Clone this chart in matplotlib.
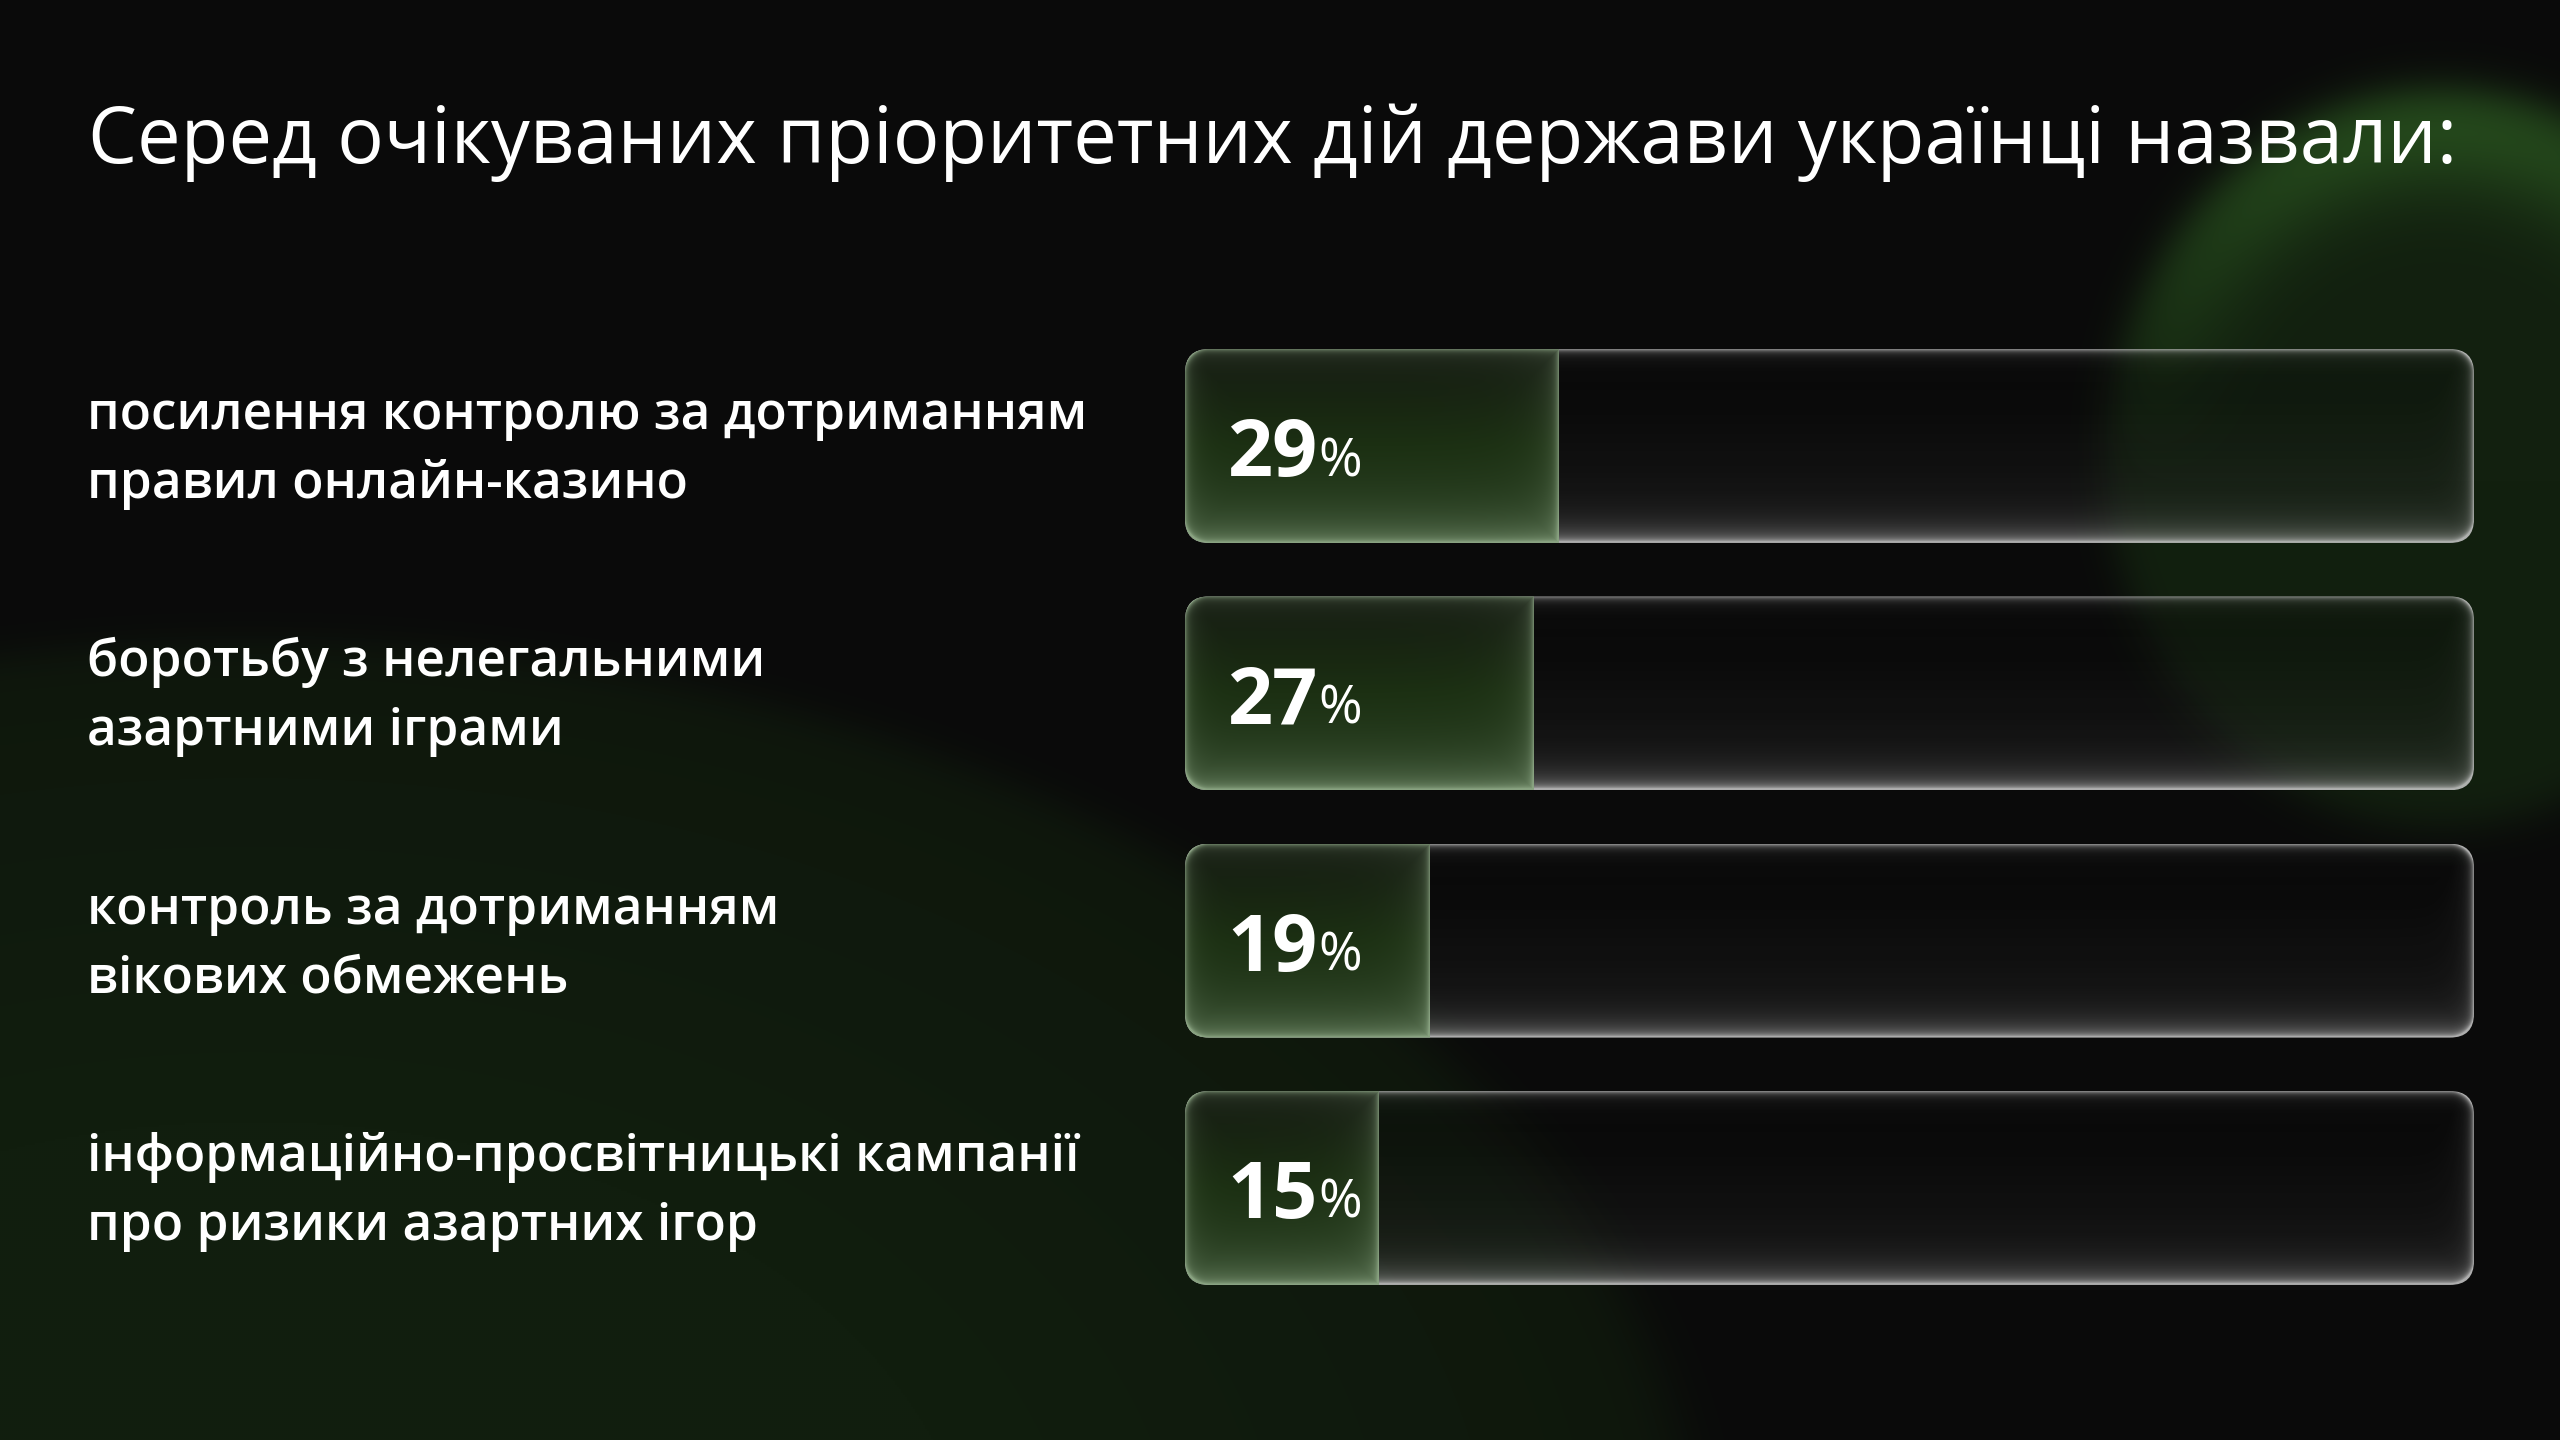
"""
Glass-style horizontal bars: expected priority actions of the state named by
Ukrainians (share of respondents, %).
"""
import numpy as np
import matplotlib
matplotlib.use("Agg")
from matplotlib import pyplot as plt
from matplotlib import transforms
from matplotlib.patches import FancyBboxPatch

TITLE = "Серед очікуваних пріоритетних дій держави українці назвали:"

CATEGORIES = [
    ["посилення контролю за дотриманням", "правил онлайн-казино"],
    ["боротьбу з нелегальними", "азартними іграми"],
    ["контроль за дотриманням", "вікових обмежень"],
    ["інформаційно-просвітницькі кампанії", "про ризики азартних ігор"],
]
VALUES = [29, 27, 19, 15]
VALUE_MAX = 100

FIG_W, FIG_H, DPI = 2560, 1440, 100
BG = np.array([10, 10, 10]) / 255

plt.rcParams["font.family"] = ["Open Sans", "Noto Sans", "DejaVu Sans"]


def _sigmoid(x):
    return 1.0 / (1.0 + np.exp(-x))


def _background(step=2):
    """Dark backdrop with two soft green blobs."""
    yy, xx = np.mgrid[0:FIG_H:step, 0:FIG_W:step].astype(float)
    img = np.ones(xx.shape + (3,)) * BG

    # big dim blob in the lower left
    d1 = np.hypot((xx - 250) / 1450, (yy - 1600) / 960)
    m1 = _sigmoid((1 - d1) / 0.012) * (0.65 + 0.35 * np.clip((1 - d1) * 2, 0, 1))
    img += m1[..., None] * np.array([7, 20, 4]) / 255

    # glowing blob in the upper right, lit from the top
    d2 = np.hypot((xx - 2440) / 335, (yy - 455) / 370)
    m2 = _sigmoid((1 - d2) / 0.035)
    img += m2[..., None] * np.array([8, 22, 5]) / 255
    lit = np.exp(-((d2 - 0.88) / 0.2) ** 2) * np.clip((480 - yy) / 380, 0, 1) ** 1.1
    img += (lit * m2)[..., None] * np.array([20, 44, 14]) / 255
    return np.clip(img, 0, 1)


def _rounded_depth(w, h, r):
    """Distance in px from every pixel to the edge of a rounded rectangle."""
    yy, xx = np.mgrid[0:h, 0:w] + 0.5
    qx = np.abs(xx - w / 2) - (w / 2 - r)
    qy = np.abs(yy - h / 2) - (h / 2 - r)
    outside = np.hypot(np.maximum(qx, 0), np.maximum(qy, 0))
    inside = np.minimum(np.maximum(qx, qy), 0)
    return r - outside - inside, xx, yy


def _track_rgba(depth, yy, h):
    """Whitish glass highlight laid over the empty part of a bar."""
    alpha = (0.55 * np.exp(-depth / 2.5) + 0.16 * np.exp(-depth / 10)
             + 0.30 * np.exp(-(h - yy) / 16) + 0.08 * yy / h)
    rgba = np.zeros(depth.shape + (4,))
    rgba[..., :3] = 0.85
    rgba[..., 3] = np.clip(alpha, 0, 0.8)
    return rgba


def _fill_rgb(depth, xx, yy, w_fill, h):
    """Green glass for the filled part of a bar."""
    t = yy / h
    stops = [0, 0.5, 1]
    cols = np.array([[20, 26, 17], [26, 46, 17], [34, 56, 27]]) / 255
    base = np.stack([np.interp(t, stops, cols[:, k]) for k in range(3)], axis=-1)
    right = w_fill - xx
    edge = np.minimum(depth, right)
    weight = (0.50 * np.exp(-edge / 2.5) + 0.20 * np.exp(-edge / 12)
              + 0.40 * np.exp(-(h - yy) / 30) + 0.10 * np.exp(-right / 30))
    weight = np.clip(weight, 0, 0.9)[..., None]
    glow = np.array([148, 174, 140]) / 255
    return base * (1 - weight) + glow * weight


def plot(path="out.png"):
    fig = plt.figure(figsize=(FIG_W / DPI, FIG_H / DPI), dpi=DPI)
    fig.patch.set_facecolor(BG)

    bg_ax = fig.add_axes([0, 0, 1, 1], zorder=0)
    bg_ax.imshow(_background(), extent=(0, FIG_W, FIG_H, 0), aspect="auto",
                 interpolation="bilinear")
    bg_ax.set_xlim(0, FIG_W)
    bg_ax.set_ylim(FIG_H, 0)
    bg_ax.axis("off")

    # bar area in pixels
    n = len(VALUES)
    left, right = 1185, 2474
    first_c, pitch = 446, 247.33
    top = first_c - pitch / 2
    ax = fig.add_axes([left / FIG_W, 1 - (top + n * pitch) / FIG_H,
                       (right - left) / FIG_W, n * pitch / FIG_H], zorder=1)
    ax.axis("off")

    bar_h = 0.784
    px_x = (right - left) / VALUE_MAX
    h_px = int(round(bar_h * pitch))
    w_px = int(round(VALUE_MAX * px_x))
    radius = 24
    depth, xx, yy = _rounded_depth(w_px, h_px, radius)
    track = _track_rgba(depth, yy, h_px)
    rx, ry = radius / px_x, radius / pitch

    lab_tr = transforms.blended_transform_factory(fig.transFigure, ax.transData)
    num_tr = transforms.offset_copy(ax.transData, fig=fig, x=42, y=-30, units="dots")
    numbers = []

    for i, (lines, value) in enumerate(zip(CATEGORIES, VALUES)):
        y0, y1 = i - bar_h / 2, i + bar_h / 2
        box = FancyBboxPatch((0, y0), VALUE_MAX, bar_h,
                             boxstyle=f"round,pad=0,rounding_size={rx}",
                             mutation_aspect=ry / rx, facecolor=(0, 0, 0, 0.3),
                             edgecolor="none", zorder=2)
        ax.add_patch(box)
        im = ax.imshow(track, extent=(0, VALUE_MAX, y1, y0), aspect="auto",
                       interpolation="bilinear", zorder=3)
        im.set_clip_path(box)

        wf = int(round(value * px_x))
        fill = _fill_rgb(depth[:, :wf], xx[:, :wf], yy[:, :wf], wf, h_px)
        im = ax.imshow(fill, extent=(0, value, y1, y0), aspect="auto",
                       interpolation="bilinear", zorder=4)
        im.set_clip_path(box)

        numbers.append(ax.text(0, i, str(value), transform=num_tr, fontsize=57,
                               fontweight="bold", color="white", va="baseline",
                               ha="left", zorder=5))

        for k, line in enumerate(lines):
            tr = lab_tr + transforms.ScaledTranslation(0, (17 - 69 * k) / DPI,
                                                       fig.dpi_scale_trans)
            ax.text(87 / FIG_W, i, line, transform=tr, fontsize=37,
                    fontweight="semibold", color="white", va="baseline", ha="left")

    ax.set_xlim(0, VALUE_MAX)
    ax.set_ylim(n - 0.5, -0.5)

    fig.text(88 / FIG_W, 1 - 163 / FIG_H, TITLE, fontsize=56, color="white",
             va="baseline", ha="left")

    # percent signs go right after the numbers
    fig.canvas.draw()
    renderer = fig.canvas.get_renderer()
    for num in numbers:
        bb = num.get_window_extent(renderer)
        base_y = num.get_transform().transform(num.get_position())[1]
        fig.text((bb.x1 + 1) / FIG_W, base_y / FIG_H, "%", fontsize=38,
                 color="white", va="baseline", ha="left", zorder=6)

    fig.savefig(path, dpi=DPI, facecolor=fig.get_facecolor())
    plt.close(fig)


if __name__ == "__main__":
    plot()
